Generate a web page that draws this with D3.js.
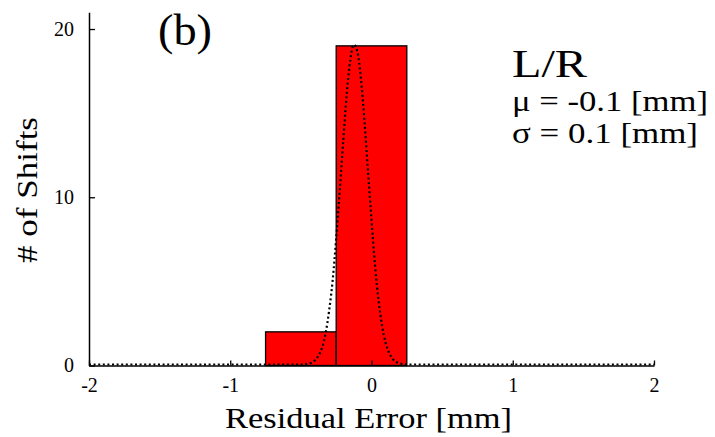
<!DOCTYPE html>
<html><head><meta charset="utf-8">
<script src="https://cdn.jsdelivr.net/npm/d3@7"></script>
</head>
<body style="margin:0"><svg id="c" width="715" height="437"></svg>
<script>
const binStarts = [-0.75, -0.25];
const binEnds   = [-0.25, 0.25];
const counts    = [2, 19];
const curveX = [-2, -0.5, -0.45, -0.425, -0.4, -0.375, -0.35, -0.325, -0.3, -0.275, -0.25, -0.225, -0.2, -0.175, -0.15, -0.125, -0.1, -0.075, -0.05, -0.025, 0, 0.025, 0.05, 0.075, 0.1, 0.125, 0.15, 0.175, 0.2, 0.25, 2];
const curveY = [0, 0, 0.05, 0.11, 0.25, 0.52, 1.0, 1.85, 3.2, 5.0, 7.5, 10.3, 13.3, 16.1, 18.1, 19.0, 18.6, 17.0, 14.5, 11.5, 8.6, 5.9, 3.8, 2.3, 1.3, 0.68, 0.33, 0.15, 0.07, 0, 0];
const xTicks = [-2, -1, 0, 1, 2];
const yTicks = [0, 10, 20];
const panelLabel = "(b)";
const statTitle = "L/R";
const statLines = ["μ = -0.1 [mm]", "σ = 0.1 [mm]"];
const xLabel = "Residual Error [mm]";
const yLabel = "# of Shifts";

const FONT = "Liberation Serif, DejaVu Serif, Noto Serif, Times New Roman, serif";
const svg = d3.select("#c").attr("font-family", FONT);
const xs = d3.scaleLinear().domain([-2, 2]).range([89, 654]);
const ys = d3.scaleLinear().domain([0, 21]).range([365.5, 12.2]);

svg.append("g").selectAll("rect").data(counts).join("rect")
  .attr("x", (d,i) => xs(binStarts[i]))
  .attr("width", (d,i) => xs(binEnds[i]) - xs(binStarts[i]))
  .attr("y", d => ys(d))
  .attr("height", d => ys(0) - ys(d))
  .attr("fill", "#ff0000").attr("stroke", "#000").attr("stroke-width", 1.3);

const xAxis = svg.append("g").attr("transform", "translate(0," + ys(0) + ")")
  .call(d3.axisBottom(xs).tickValues(xTicks).tickSizeInner(-5).tickSizeOuter(0).tickPadding(12)
    .tickFormat(d => d < 0 ? "-" + Math.abs(d) : String(d)));
const yAxis = svg.append("g").attr("transform", "translate(" + xs(-2) + ",0)")
  .call(d3.axisLeft(ys).tickValues(yTicks).tickSizeInner(-6).tickSizeOuter(0).tickPadding(15)
    .tickFormat(d => String(d)));
xAxis.attr("font-size", 20).attr("font-family", FONT);
yAxis.attr("font-size", 20).attr("font-family", FONT);
svg.selectAll(".domain").attr("stroke", "#000").attr("stroke-width", 1.5);
svg.selectAll(".tick line").attr("stroke", "#000").attr("stroke-width", 1.3);
svg.selectAll(".tick text").attr("fill", "#000").attr("font-size", 20).attr("font-family", FONT);

const curveLine = d3.line().x((d,i) => xs(curveX[i])).y(d => ys(d)).curve(d3.curveMonotoneX);
svg.append("path").datum(curveY).attr("d", curveLine)
  .attr("fill", "none").attr("stroke", "#000").attr("stroke-width", 2.2)
  .attr("stroke-dasharray", "2,2.6").attr("transform", "translate(0,-1)");

function addText(xp, yp, size, len, s, rot) {
  const t = svg.append("text").attr("font-family", FONT).attr("font-size", size).attr("fill", "#000")
    .attr("textLength", len).attr("lengthAdjust", "spacingAndGlyphs").text(s);
  if (rot) t.attr("transform", "translate(" + xp + "," + yp + ") rotate(-90)");
  else t.attr("x", xp).attr("y", yp);
  return t;
}
addText(158, 45, 44, 54, panelLabel);
addText(512, 77, 41, 75, statTitle);
addText(512, 111, 30, 196, statLines[0]);
addText(512, 143, 30, 186, statLines[1]);
addText(225, 428, 30, 287, xLabel);
addText(37, 263, 29, 146, yLabel, true);
</script></body></html>
